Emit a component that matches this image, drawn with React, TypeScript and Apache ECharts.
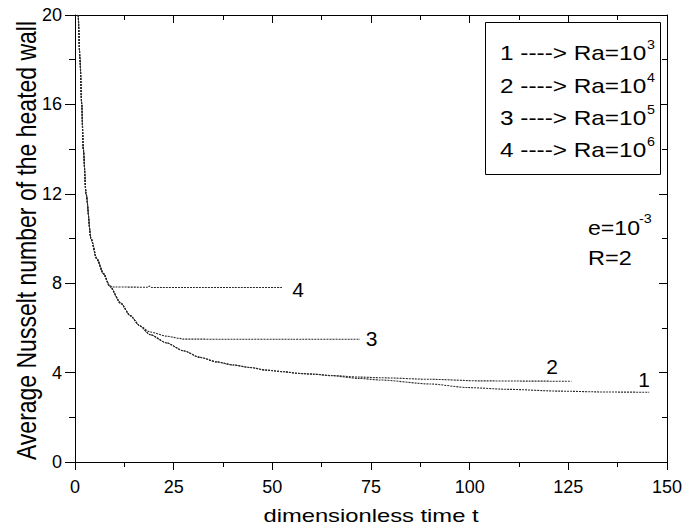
import React, { useEffect, useRef } from "react";
import * as echarts from "echarts";

// Axis ranges / ticks
const xMin = 0;
const xMax = 150;
const xStep = 25;
const yMin = 0;
const yMax = 20;
const yStep = 4;

// Curve 1: Ra = 10^3
const t1 = [0.84, 1.27, 1.7, 2.1, 2.8, 4.05, 5.5, 7.2, 8.8, 11.6, 14, 16.5, 19, 23.2, 27.4, 31.7, 35.9, 40.1, 44.3, 48.5, 52.8, 57, 60.4, 65, 72, 77.3, 90, 99.6, 110, 122.9, 135, 145.5];
const nu1 = [20, 18, 16, 14, 12, 10, 9.1, 8.43, 7.87, 7.1, 6.55, 6.08, 5.7, 5.33, 4.98, 4.68, 4.48, 4.34, 4.23, 4.11, 4.04, 3.96, 3.93, 3.86, 3.74, 3.67, 3.49, 3.33, 3.25, 3.17, 3.13, 3.12];

// Curve 2: Ra = 10^4
const t2 = [0.84, 1.27, 1.7, 2.1, 2.8, 4.05, 5.5, 7.2, 8.8, 11.6, 14, 16.5, 19, 23.2, 27.4, 31.7, 35.9, 40.1, 44.3, 48.5, 52.8, 57, 60.4, 65, 72, 77.3, 90, 102.6, 115, 125.8];
const nu2 = [20, 18, 16, 14, 12, 10, 9.1, 8.43, 7.87, 7.1, 6.55, 6.08, 5.7, 5.33, 4.98, 4.68, 4.48, 4.34, 4.23, 4.11, 4.04, 3.96, 3.93, 3.87, 3.8, 3.77, 3.7, 3.63, 3.62, 3.61];

// Curve 3: Ra = 10^5
const t3 = [0.84, 1.27, 1.7, 2.1, 2.8, 4.05, 5.5, 7.2, 8.8, 11.6, 14, 16.5, 19, 23.2, 26.6, 27.2, 40, 55, 72.2];
const nu3 = [20, 18, 16, 14, 12, 10, 9.1, 8.43, 7.87, 7.1, 6.55, 6.08, 5.82, 5.63, 5.53, 5.5, 5.49, 5.49, 5.49];

// Curve 4: Ra = 10^6
const t4 = [0.84, 1.27, 1.7, 2.1, 2.8, 4.05, 5.5, 7.2, 8.8, 10, 18.5, 18.9, 19.4, 30, 40, 52.6];
const nu4 = [20, 18, 16, 14, 12, 10, 9.1, 8.43, 7.87, 7.83, 7.82, 7.87, 7.81, 7.81, 7.81, 7.81];

const curveNames = ["1", "2", "3", "4"];
const legendLines = ["1 ----> Ra=10", "2 ----> Ra=10", "3 ----> Ra=10", "4 ----> Ra=10"];
const legendExponents = ["3", "4", "5", "6"];
const xTitle = "dimensionless time t";
const yTitle = "Average Nusselt number of the heated wall";
const paramLine1 = "e=10";
const paramExp = "-3";
const paramLine2 = "R=2";

const FONT = '"Liberation Sans", Arial, Helvetica, sans-serif';

function pairs(t: number[], v: number[]) {
  return t.map((x, i) => [x, v[i]]);
}

export default function App() {
  const ref = useRef<HTMLDivElement>(null);

  useEffect(() => {
    if (!ref.current) return;
    const chart = echarts.init(ref.current, undefined, { renderer: "svg" });

    const lineStyle = { color: "#2a2a2a", width: 1.1, type: [2, 1] as any };
    const seriesData = [pairs(t1, nu1), pairs(t2, nu2), pairs(t3, nu3), pairs(t4, nu4)];

    const baseAxisLine = { show: true, onZero: false, lineStyle: { color: "#000", width: 1 } };
    const labelStyle = { color: "#000", fontSize: 18, fontFamily: FONT };

    const legendY = [53, 85.5, 117.5, 150];
    const expY = [45, 77.5, 109.5, 142];
    const curveLabelPos = [
      [644, 379.5],
      [552, 366],
      [371.5, 338.5],
      [298, 289],
    ];

    const graphic: any[] = [
      {
        type: "rect",
        shape: { x: 485.5, y: 22.5, width: 175, height: 152 },
        style: { fill: "#fff", stroke: "#000", lineWidth: 1 },
        z: 10,
      },
      ...legendLines.map((s, i) => ({
        type: "text",
        x: 500,
        y: legendY[i],
        scaleX: 1.16,
        style: { text: s, fontSize: 21, fontFamily: FONT, fill: "#000", align: "left", verticalAlign: "middle" },
        z: 11,
      })),
      ...legendExponents.map((s, i) => ({
        type: "text",
        x: 647,
        y: expY[i],
        scaleX: 1.1,
        style: { text: s, fontSize: 13, fontFamily: FONT, fill: "#000", align: "left", verticalAlign: "middle" },
        z: 11,
      })),
      ...curveNames.map((s, i) => ({
        type: "text",
        x: curveLabelPos[i][0],
        y: curveLabelPos[i][1],
        style: { text: s, fontSize: 21, fontFamily: FONT, fill: "#000", align: "center", verticalAlign: "middle" },
        z: 11,
      })),
      {
        type: "text",
        x: 588,
        y: 228,
        scaleX: 1.1,
        style: { text: paramLine1, fontSize: 21, fontFamily: FONT, fill: "#000", align: "left", verticalAlign: "middle" },
        z: 11,
      },
      {
        type: "text",
        x: 639,
        y: 219,
        scaleX: 1.1,
        style: { text: paramExp, fontSize: 13, fontFamily: FONT, fill: "#000", align: "left", verticalAlign: "middle" },
        z: 11,
      },
      {
        type: "text",
        x: 588,
        y: 258,
        scaleX: 1.12,
        style: { text: paramLine2, fontSize: 21, fontFamily: FONT, fill: "#000", align: "left", verticalAlign: "middle" },
        z: 11,
      },
      {
        type: "text",
        x: 371,
        y: 516,
        scaleX: 1.25,
        style: { text: xTitle, fontSize: 19, fontFamily: FONT, fill: "#000", align: "center", verticalAlign: "middle" },
        z: 11,
      },
      {
        type: "text",
        x: 26,
        y: 240.5,
        rotation: Math.PI / 2,
        scaleY: 1.18,
        style: { text: yTitle, fontSize: 23, fontFamily: FONT, fill: "#000", align: "center", verticalAlign: "middle" },
        z: 11,
      },
    ];

    const option: any = {
      animation: false,
      backgroundColor: "#fff",
      grid: { left: 75, right: 18, top: 15, bottom: 70 },
      xAxis: [
        {
          type: "value",
          min: xMin,
          max: xMax,
          interval: xStep,
          position: "bottom",
          axisLine: baseAxisLine,
          axisTick: { show: true, inside: false, length: 8, lineStyle: { color: "#000" } },
          minorTick: { show: true, splitNumber: 2, length: 5, lineStyle: { color: "#000" } },
          axisLabel: { ...labelStyle, margin: 16, showMinLabel: true, showMaxLabel: true },
          splitLine: { show: false },
        },
        {
          type: "value",
          min: xMin,
          max: xMax,
          interval: xStep,
          position: "top",
          axisLine: baseAxisLine,
          axisTick: { show: true, inside: true, length: 8, lineStyle: { color: "#000" } },
          minorTick: { show: true, splitNumber: 2, length: 5, lineStyle: { color: "#000" } },
          axisLabel: { show: false },
          splitLine: { show: false },
        },
      ],
      yAxis: [
        {
          type: "value",
          min: yMin,
          max: yMax,
          interval: yStep,
          position: "left",
          axisLine: baseAxisLine,
          axisTick: { show: true, inside: false, length: 10, lineStyle: { color: "#000" } },
          minorTick: { show: true, splitNumber: 2, length: 6, lineStyle: { color: "#000" } },
          axisLabel: { ...labelStyle, margin: 13, showMinLabel: true, showMaxLabel: true },
          splitLine: { show: false },
        },
        {
          type: "value",
          min: yMin,
          max: yMax,
          interval: yStep,
          position: "right",
          axisLine: baseAxisLine,
          axisTick: { show: true, inside: true, length: 8, lineStyle: { color: "#000" } },
          minorTick: { show: true, splitNumber: 2, length: 5, lineStyle: { color: "#000" } },
          axisLabel: { show: false },
          splitLine: { show: false },
        },
      ],
      series: seriesData.map((d, i) => ({
        name: curveNames[i],
        type: "line",
        xAxisIndex: 0,
        yAxisIndex: 0,
        data: d,
        symbol: "none",
        smooth: 0.25,
        smoothMonotone: "x",
        lineStyle,
        z: 3,
      })),
      graphic,
    };

    chart.setOption(option);
    return () => chart.dispose();
  }, []);

  return (
    <div
      ref={ref}
      style={{ position: "absolute", left: 0, top: 0, width: 685, height: 532 }}
    />
  );
}
